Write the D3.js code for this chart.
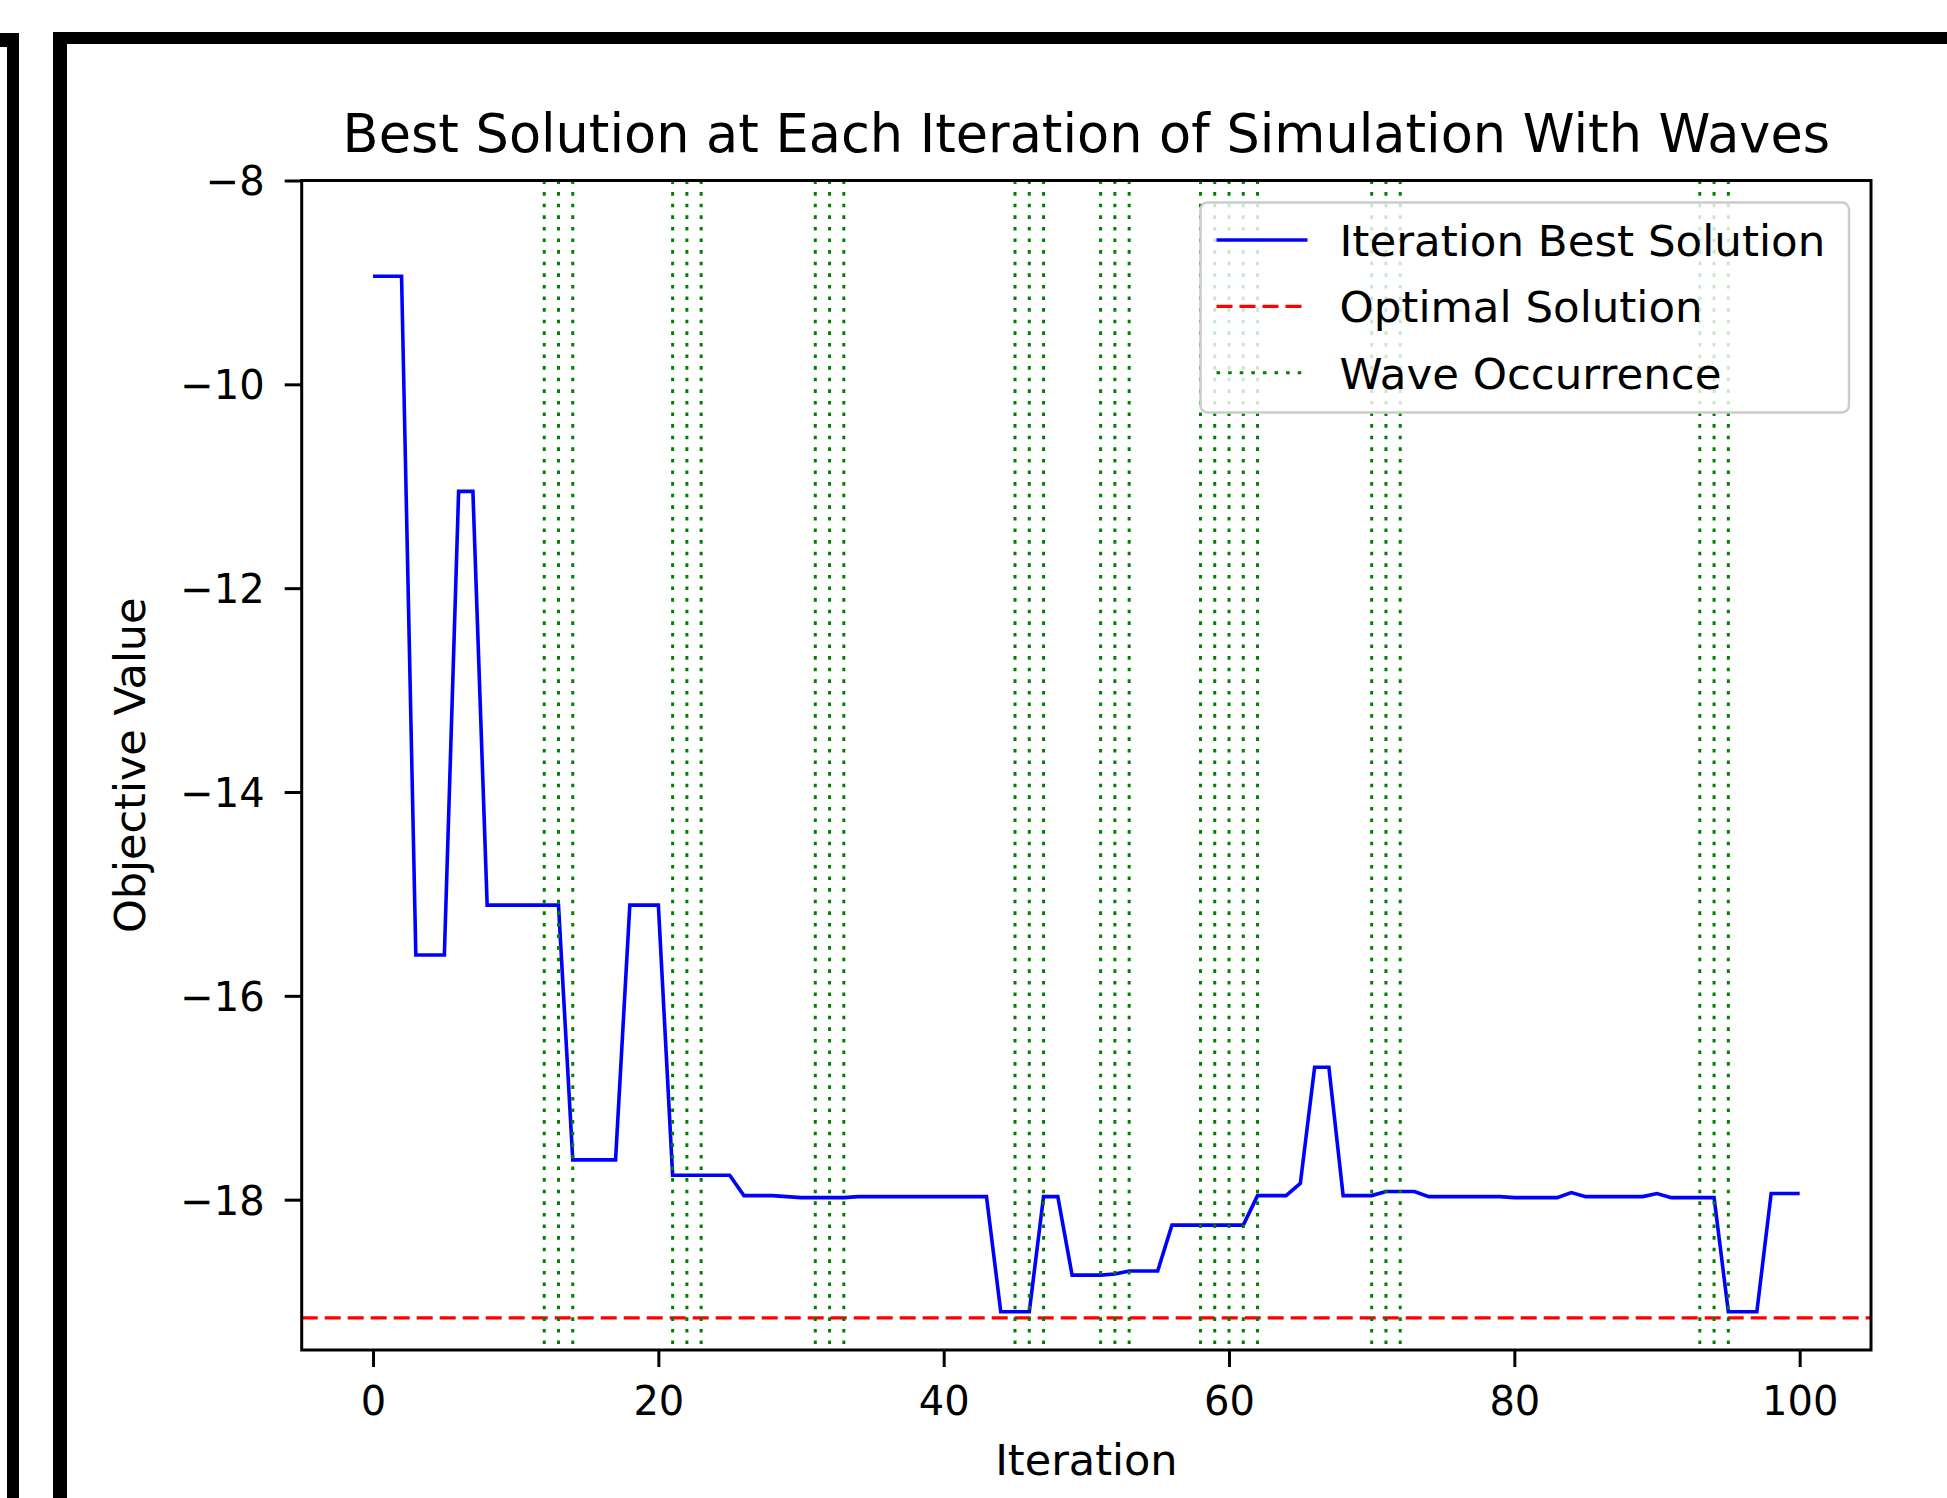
<!DOCTYPE html>
<html>
<head>
<meta charset="utf-8">
<script src="https://cdn.jsdelivr.net/npm/d3@7"></script>
<style>
  body { margin: 0; background: #fff; }
  svg text { font-family: "DejaVu Sans", sans-serif; fill: #000; }
</style>
</head>
<body>
<svg id="chart"></svg>
<script>
// best objective value found at each iteration (index = iteration)
const bestValues = [
  -8.94, -8.94, -8.94, -15.60, -15.60, -15.60, -11.05, -11.05, -15.11, -15.11,
  -15.11, -15.11, -15.11, -15.11, -17.61, -17.61, -17.61, -17.61, -15.11, -15.11,
  -15.11, -17.76, -17.76, -17.76, -17.76, -17.76, -17.96, -17.96, -17.96, -17.97,
  -17.98, -17.98, -17.98, -17.98, -17.97, -17.97, -17.97, -17.97, -17.97, -17.97,
  -17.97, -17.97, -17.97, -17.97, -19.10, -19.10, -19.10, -17.97, -17.97, -18.74,
  -18.74, -18.74, -18.73, -18.70, -18.70, -18.70, -18.25, -18.25, -18.25, -18.25,
  -18.25, -18.25, -17.96, -17.96, -17.96, -17.84, -16.70, -16.70, -17.96, -17.96,
  -17.96, -17.92, -17.92, -17.92, -17.97, -17.97, -17.97, -17.97, -17.97, -17.97,
  -17.98, -17.98, -17.98, -17.98, -17.93, -17.97, -17.97, -17.97, -17.97, -17.97,
  -17.94, -17.98, -17.98, -17.98, -17.98, -19.10, -19.10, -19.10, -17.94, -17.94,
  -17.94
];
const optimalValue = -19.16;
const waveIterations = [12, 13, 14, 21, 22, 23, 31, 32, 33, 45, 46, 47, 51, 52, 53,
  58, 59, 60, 61, 62, 70, 71, 72, 93, 94, 95];
const xTicks = [0, 20, 40, 60, 80, 100];
const yTicks = [-8, -10, -12, -14, -16, -18];
const legendLabels = ["Iteration Best Solution", "Optimal Solution", "Wave Occurrence"];
const titleText = "Best Solution at Each Iteration of Simulation With Waves";

class WaveChart {
  constructor(_config) {
    this.config = {
      parentElement: _config.parentElement,
      containerWidth: _config.containerWidth || 1947,
      containerHeight: _config.containerHeight || 1498,
      margin: { top: 180.5, bottom: 148, right: 76, left: 301.7 }
    };
    this.initVis();
  }

  initVis() {
    let vis = this;
    const m = vis.config.margin;

    vis.width = vis.config.containerWidth - m.left - m.right;
    vis.height = vis.config.containerHeight - m.top - m.bottom;

    vis.svg = d3.select(vis.config.parentElement)
        .attr('width', vis.config.containerWidth)
        .attr('height', vis.config.containerHeight);

    // screenshot frame around the figure
    const frame = vis.svg.append('g').attr('fill', '#000');
    frame.append('rect').attr('x', 0).attr('y', 33).attr('width', 19).attr('height', 14);
    frame.append('rect').attr('x', 7).attr('y', 33).attr('width', 12).attr('height', 1498);
    frame.append('rect').attr('x', 53).attr('y', 32).attr('width', 1900).attr('height', 12);
    frame.append('rect').attr('x', 53).attr('y', 32).attr('width', 14).attr('height', 1498);

    vis.chart = vis.svg.append('g')
        .attr('transform', `translate(${m.left},${m.top})`);

    vis.xScale = d3.scaleLinear()
        .domain([-5, 105])
        .range([0, vis.width]);

    vis.yScale = d3.scaleLinear()
        .domain([-19.475, -8])
        .range([vis.height, 0]);

    vis.renderVis();
  }

  renderVis() {
    let vis = this;
    const m = vis.config.margin;

    // Blue line
    const line = d3.line()
        .x((d, i) => vis.xScale(i))
        .y(d => vis.yScale(d));

    vis.chart.append('path')
        .datum(bestValues)
        .attr('fill', 'none')
        .attr('stroke', '#0000ff')
        .attr('stroke-width', 3.6)
        .attr('stroke-linejoin', 'miter')
        .attr('d', line);

    // optimal solution
    vis.chart.append('line')
        .attr('x1', 0)
        .attr('x2', vis.width)
        .attr('y1', vis.yScale(optimalValue))
        .attr('y2', vis.yScale(optimalValue))
        .attr('stroke', '#ff0000')
        .attr('stroke-width', 3.4)
        .attr('stroke-dasharray', '16 7');

    // wave occurrences
    vis.chart.selectAll('.wave')
        .data(waveIterations)
        .join('line')
        .attr('class', 'wave')
        .attr('x1', d => vis.xScale(d))
        .attr('x2', d => vis.xScale(d))
        .attr('y1', 0)
        .attr('y2', vis.height)
        .attr('stroke', '#008000')
        .attr('stroke-width', 3)
        .attr('stroke-dasharray', '3.6 8');

    // Axes
    const xAxis = d3.axisBottom(vis.xScale)
        .tickValues(xTicks)
        .tickFormat(d3.format('d'))
        .tickSize(17)
        .tickPadding(20);

    const yAxis = d3.axisLeft(vis.yScale)
        .tickValues(yTicks)
        .tickFormat(d3.format('d'))
        .tickSize(17)
        .tickPadding(20);

    const xAxisG = vis.chart.append('g')
        .attr('transform', `translate(0,${vis.height})`)
        .call(xAxis);
    const yAxisG = vis.chart.append('g')
        .call(yAxis);

    [xAxisG, yAxisG].forEach(g => {
      g.select('.domain').remove();
      g.selectAll('.tick line').attr('stroke', '#000').attr('stroke-width', 3);
      g.selectAll('.tick text')
          .attr('fill', '#000')
          .style('font-family', '"DejaVu Sans", sans-serif')
          .style('font-size', '40px');
    });
    yAxisG.selectAll('.tick text').attr('dy', '0.36em');

    // spines
    vis.chart.append('rect')
        .attr('x', 0)
        .attr('y', 0)
        .attr('width', vis.width)
        .attr('height', vis.height)
        .attr('fill', 'none')
        .attr('stroke', '#000')
        .attr('stroke-width', 3);

    // Title and axis labels
    vis.svg.append('text')
        .attr('x', m.left + vis.width / 2)
        .attr('y', 152)
        .attr('text-anchor', 'middle')
        .style('font-size', '52.5px')
        .text(titleText);

    vis.svg.append('text')
        .attr('x', m.left + vis.width / 2)
        .attr('y', 1475)
        .attr('text-anchor', 'middle')
        .style('font-size', '43px')
        .text('Iteration');

    vis.svg.append('text')
        .attr('transform', `translate(145,${m.top + vis.height / 2}) rotate(-90)`)
        .attr('text-anchor', 'middle')
        .style('font-size', '43px')
        .text('Objective Value');

    // Legend
    const legend = vis.svg.append('g')
        .attr('transform', 'translate(1200.5,202.5)');

    legend.append('rect')
        .attr('width', 648.5)
        .attr('height', 210)
        .attr('rx', 7)
        .attr('fill', '#fff')
        .attr('fill-opacity', 0.8)
        .attr('stroke', '#cccccc')
        .attr('stroke-width', 2.5);

    const styles = [
      { color: '#0000ff', dash: null },
      { color: '#ff0000', dash: '16 7' },
      { color: '#008000', dash: '3.6 8' }
    ];

    const items = legend.selectAll('.leg')
        .data(legendLabels)
        .join('g')
        .attr('class', 'leg')
        .attr('transform', (d, i) => `translate(0,${37.5 + i * 66.4})`);

    items.append('line')
        .attr('x1', 16)
        .attr('x2', 107)
        .attr('stroke', (d, i) => styles[i].color)
        .attr('stroke-width', (d, i) => i === 2 ? 3 : 3.4)
        .attr('stroke-dasharray', (d, i) => styles[i].dash);

    items.append('text')
        .attr('x', 139)
        .attr('y', 15.8)
        .style('font-size', '43.5px')
        .text(d => d);
  }
}

new WaveChart({ parentElement: '#chart' });
</script>
</body>
</html>
